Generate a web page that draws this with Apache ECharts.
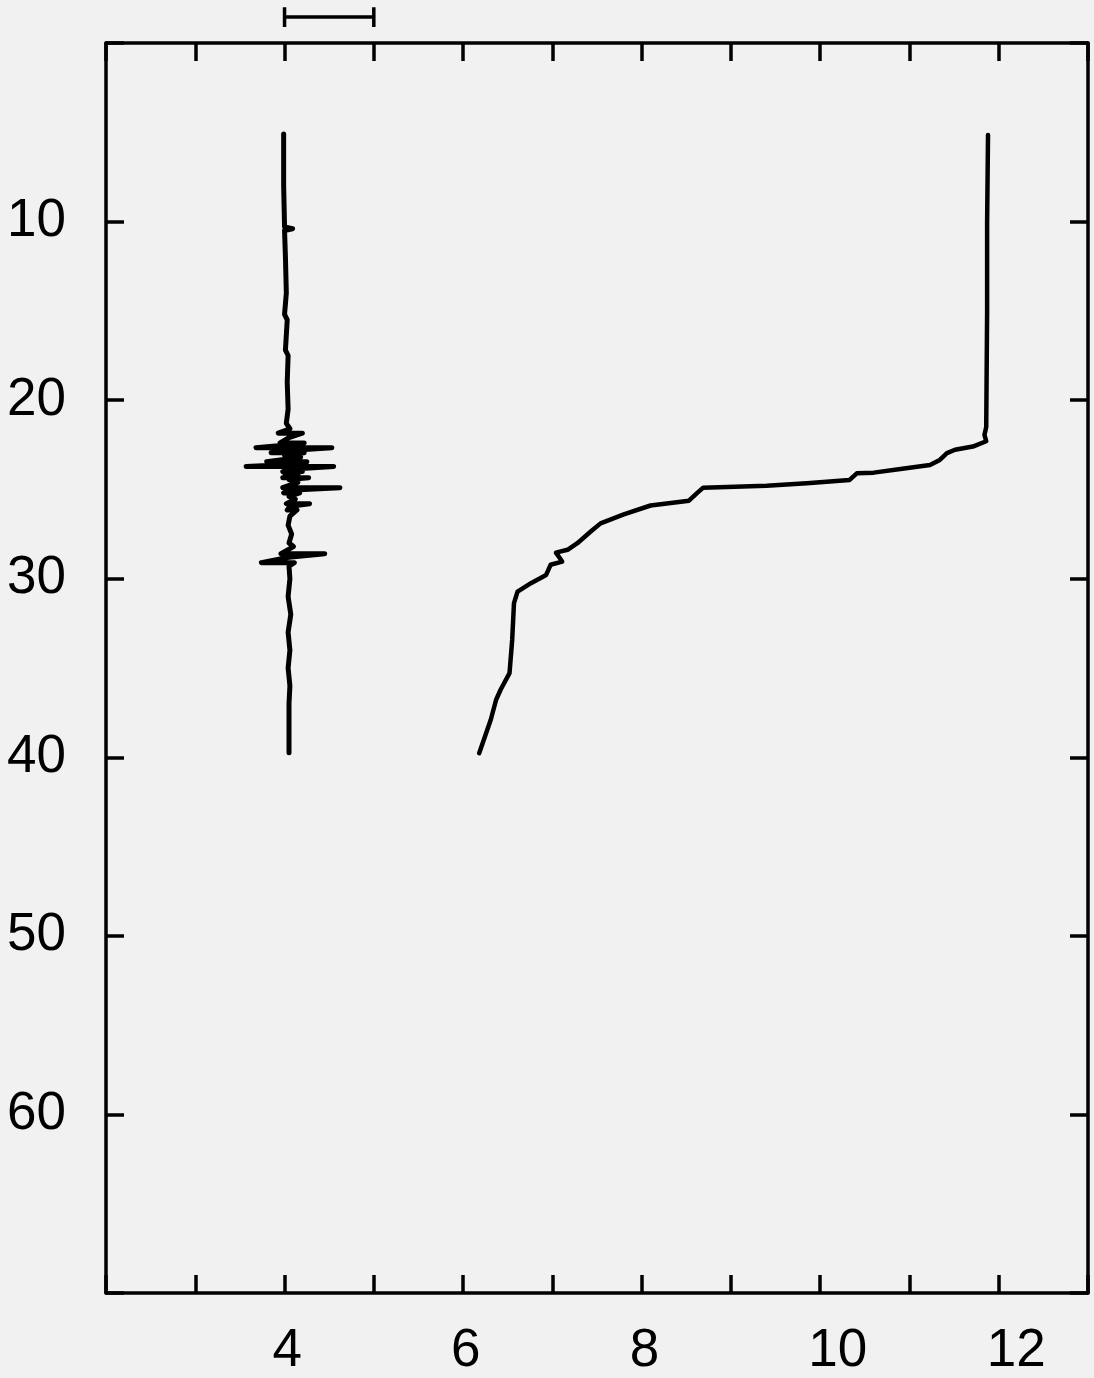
<!DOCTYPE html>
<html>
<head>
<meta charset="utf-8">
<script src="https://cdn.jsdelivr.net/npm/echarts@6/dist/echarts.min.js"></script>
<style>
  html, body { margin: 0; padding: 0; background: #f1f1f1; }
  #chart { width: 1094px; height: 1378px; }
</style>
</head>
<body>
<div id="chart"></div>
<script>
// ---- data (x value, depth) ----
const xTickLabels = [4, 6, 8, 10, 12];
const yTickLabels = [10, 20, 30, 40, 50, 60];

// noisy trace near x = 4
const noiseTrace = [
  [3.99,5.1],[3.99,8.0],[4.0,10.3],[4.09,10.4],[4.0,10.5],[4.01,12],[4.02,14],[4.0,15.2],
  [4.03,15.5],[4.01,17.2],[4.04,17.5],[4.03,19],[4.04,20.5],[4.02,21.3],[4.06,21.6],
  [3.93,21.85],[4.2,21.85],[4.05,22.1],[3.95,22.4],[4.22,22.4],[4.05,22.5],
  [3.68,22.66],[4.53,22.66],[4.1,22.8],[3.85,22.95],[4.22,22.95],[4.0,23.1],[4.18,23.2],
  [3.8,23.45],[4.25,23.45],[4.05,23.6],[3.57,23.72],[4.55,23.72],[4.1,23.85],
  [3.98,24.0],[4.2,24.0],[4.0,24.1],[4.15,24.2],[3.98,24.35],[4.27,24.35],[4.05,24.45],[4.15,24.6],
  [3.98,24.9],[4.62,24.9],[4.05,25.05],[3.99,25.2],[4.17,25.2],[4.05,25.4],[4.12,25.55],
  [4.02,25.8],[4.28,25.8],[4.06,25.95],[4.03,26.15],[4.14,26.15],[4.06,26.5],
  [4.04,27.0],[4.08,27.5],[4.05,28.0],[4.1,28.2],[3.96,28.6],[4.45,28.6],[4.05,28.8],
  [3.74,29.1],[4.11,29.1],[4.05,29.3],[4.06,30],[4.04,31],[4.07,32],[4.04,33],
  [4.06,34],[4.04,35],[4.06,36],[4.05,37],[4.05,38],[4.05,39.75]
];

// main profile curve
const profileCurve = [
  [11.88,5.15],[11.87,10],[11.87,15],[11.86,21.5],[11.84,21.95],[11.86,22.3],
  [11.71,22.6],[11.51,22.78],[11.42,22.97],[11.34,23.35],[11.23,23.63],
  [10.92,23.84],[10.6,24.06],[10.41,24.1],[10.33,24.47],[9.85,24.65],
  [9.4,24.79],[8.69,24.9],[8.62,25.21],[8.53,25.63],[8.1,25.9],[7.8,26.4],
  [7.54,26.9],[7.43,27.36],[7.28,28.01],[7.17,28.38],[7.04,28.54],[7.11,29.04],
  [6.98,29.22],[6.93,29.79],[6.76,30.25],[6.61,30.72],[6.57,31.37],[6.55,33.43],
  [6.52,35.29],[6.42,36.22],[6.37,36.78],[6.31,37.9],[6.18,39.77]
];

// scale bar above the frame (from x=4 to x=5)
const scaleBar = [[4,-2.0],[4,-0.9],[4,-1.45],[5,-1.45],[5,-2.0],[5,-0.9]];

const FONT = '"Liberation Sans", Arial, sans-serif';
function axisLine() { return { show: true, onZero: false, lineStyle: { color: '#000', width: 3.5 } }; }
function axisTick() { return { show: true, inside: true, length: 18, lineStyle: { color: '#000', width: 3.5 } }; }

const chart = echarts.init(document.getElementById('chart'), null, { renderer: 'canvas' });
chart.setOption({
  backgroundColor: '#f1f1f1',
  animation: false,
  grid: { left: 106, right: 6, top: 43, bottom: 85, containLabel: false },
  xAxis: [
    {
      type: 'value', position: 'bottom', min: 2, max: 13, interval: 1,
      axisLine: axisLine(), axisTick: axisTick(), splitLine: { show: false },
      axisLabel: {
        show: true, margin: 32, color: '#000', fontSize: 53, fontFamily: FONT,
        align: 'left', padding: [0, 0, 0, -12],
        formatter: v => xTickLabels.includes(v) ? String(v) : ''
      }
    },
    {
      type: 'value', position: 'top', min: 2, max: 13, interval: 1,
      axisLine: axisLine(), axisTick: axisTick(), splitLine: { show: false }, axisLabel: { show: false }
    }
  ],
  yAxis: [
    {
      type: 'value', position: 'left', inverse: true, min: 0, max: 70, interval: 10,
      axisLine: axisLine(), axisTick: axisTick(), splitLine: { show: false },
      axisLabel: {
        show: true, margin: 40, color: '#000', fontSize: 53, fontFamily: FONT,
        formatter: v => yTickLabels.includes(v) ? String(v) : ''
      }
    },
    {
      type: 'value', position: 'right', inverse: true, min: 0, max: 70, interval: 10,
      axisLine: axisLine(), axisTick: axisTick(), splitLine: { show: false }, axisLabel: { show: false }
    }
  ],
  series: [
    {
      type: 'line', data: noiseTrace, xAxisIndex: 0, yAxisIndex: 0,
      showSymbol: false, lineStyle: { color: '#000', width: 5, join: 'round', cap: 'round' }
    },
    {
      type: 'line', data: profileCurve, xAxisIndex: 0, yAxisIndex: 0,
      showSymbol: false, lineStyle: { color: '#000', width: 4.5, join: 'round', cap: 'round' }
    },
    {
      type: 'line', data: scaleBar, xAxisIndex: 0, yAxisIndex: 0, clip: false,
      showSymbol: false, lineStyle: { color: '#000', width: 3.5 }
    }
  ]
});
</script>
</body>
</html>
